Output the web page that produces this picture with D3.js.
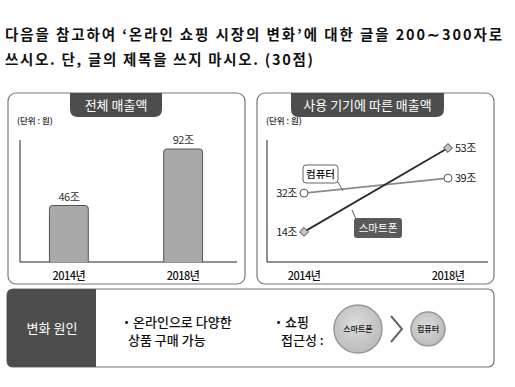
<!DOCTYPE html>
<html>
<head>
<meta charset="utf-8">
<script src="https://cdn.jsdelivr.net/npm/d3@7"></script>
<style>
body{margin:0;background:#fff;}
svg{display:block;}
</style>
</head>
<body>
<svg id="chart" width="515" height="387"></svg>
<script>
// data
var questionLines=["다음을 참고하여 ‘온라인 쇼핑 시장의 변화’에 대한 글을 200∼300자로","쓰시오. 단, 글의 제목을 쓰지 마시오. (30점)"];
var years=["2014년","2018년"];
var totalSales=[46,92];
var pcSales=[32,39];
var phoneSales=[14,53];
var unitLabel="(단위 : 원)";
var causeItems=[["・온라인으로 다양한","상품 구매 가능"],["・쇼핑","접근성 :"]];

var svg=d3.select("#chart");
var sans="'Noto Sans CJK KR','Noto Sans',sans-serif";

// question text
var qLen=[497,308];
svg.selectAll(".q").data(questionLines).enter().append("text")
    .attr("x",5).attr("y",function(d,i){return 40+i*25;})
    .style("font-family",sans).style("font-weight","bold").style("font-size","14.5px")
    .style("fill","#111").attr("textLength",function(d,i){return qLen[i];})
    .text(function(d){return d;});

function panel(x,y,w,h,title,tx,tw){
    svg.append("rect").attr("x",x).attr("y",y).attr("width",w).attr("height",h)
        .attr("rx",8).attr("fill","#fff").attr("stroke","#777").attr("stroke-width",1.2);
    // tab
    var r=8;
    var p="M"+tx+","+y+" L"+(tx+tw)+","+y+" L"+(tx+tw)+","+(y+24-r)+" Q"+(tx+tw)+","+(y+24)+" "+(tx+tw-r)+","+(y+24)
        +" L"+(tx+r)+","+(y+24)+" Q"+tx+","+(y+24)+" "+tx+","+(y+24-r)+" Z";
    svg.append("path").attr("d",p).attr("fill","#4d4d4d");
    svg.append("text").attr("x",tx+tw/2).attr("y",y+17).attr("text-anchor","middle")
        .style("font-family",sans).style("font-size","13px").style("fill","#fff").text(title);
    svg.append("text").attr("x",x+9).attr("y",y+31).style("font-family",sans).style("font-weight","500")
        .style("font-size","8.5px").style("fill","#222").text(unitLabel);
}

panel(8,93,237,191,"전체 매출액",70,92);
panel(257,93,237,191,"사용 기기에 따른 매출액",291,153);

// left bar chart
var x1=d3.scaleBand().domain(years).range([30,222]).paddingInner(0.66).paddingOuter(0.17);
var y1=d3.scaleLinear().domain([0,92]).range([262,149]);
svg.append("line").attr("x1",20).attr("x2",20).attr("y1",140).attr("y2",262).attr("stroke","#222");
svg.append("line").attr("x1",20).attr("x2",237).attr("y1",262).attr("y2",262).attr("stroke","#222");
svg.selectAll(".bar").data(totalSales).enter().append("path")
    .attr("d",function(d,i){
        var bx=x1(years[i]),bw=x1.bandwidth(),by=y1(d),r=3;
        return "M"+bx+",262 L"+bx+","+(by+r)+" Q"+bx+","+by+" "+(bx+r)+","+by+" L"+(bx+bw-r)+","+by
            +" Q"+(bx+bw)+","+by+" "+(bx+bw)+","+(by+r)+" L"+(bx+bw)+",262";
    })
    .attr("fill","#a9a9a9").attr("stroke","#555").attr("stroke-width",1);
svg.selectAll(".barlab").data(totalSales).enter().append("text")
    .attr("x",function(d,i){return x1(years[i])+x1.bandwidth()/2;})
    .attr("y",function(d){return y1(d)-5;}).attr("text-anchor","middle")
    .style("font-family",sans).style("font-size","11px").style("fill","#333").style("letter-spacing","-0.5px")
    .text(function(d){return d+"조";});
svg.selectAll(".xl1").data(years).enter().append("text")
    .attr("x",function(d){return x1(d)+x1.bandwidth()/2;}).attr("y",280).attr("text-anchor","middle")
    .style("font-family",sans).style("font-weight","500").style("font-size","11px").style("fill","#111").style("letter-spacing","-0.5px")
    .text(function(d){return d;});

// right line chart
var x2=d3.scalePoint().domain(years).range([304,448]);
var y2=d3.scaleLinear().domain([0,53]).range([262,148]);
svg.append("line").attr("x1",267).attr("x2",267).attr("y1",140).attr("y2",262).attr("stroke","#222");
svg.append("line").attr("x1",267).attr("x2",488).attr("y1",262).attr("y2",262).attr("stroke","#222");

var line=d3.line().x(function(d,i){return x2(years[i]);}).y(function(d){return y2(d);});
svg.append("path").datum(pcSales).attr("d",line).attr("fill","none").attr("stroke","#8a8a8a").attr("stroke-width",1.6);
svg.append("path").datum(phoneSales).attr("d",line).attr("fill","none").attr("stroke","#2b2b2b").attr("stroke-width",1.8);

svg.selectAll(".pc").data(pcSales).enter().append("circle")
    .attr("cx",function(d,i){return x2(years[i]);}).attr("cy",function(d){return y2(d);})
    .attr("r",4).attr("fill","#fff").attr("stroke","#555");
svg.selectAll(".ph").data(phoneSales).enter().append("path")
    .attr("d",d3.symbol().type(d3.symbolDiamond2).size(50))
    .attr("transform",function(d,i){return "translate("+x2(years[i])+","+y2(d)+")";})
    .attr("fill","#c4c4c4").attr("stroke","#444");

function valueLabels(arr){
    svg.selectAll(null).data(arr).enter().append("text")
        .attr("x",function(d,i){return x2(years[i])+(i==0?-7:7);})
        .attr("y",function(d){return y2(d)+4;})
        .attr("text-anchor",function(d,i){return i==0?"end":"start";})
        .style("font-family",sans).style("font-size","11px").style("fill","#222").style("letter-spacing","-0.5px")
        .text(function(d){return d+"조";});
}
valueLabels(pcSales);
valueLabels(phoneSales);

// callouts
svg.append("line").attr("x1",338).attr("y1",182).attr("x2",343).attr("y2",191).attr("stroke","#666");
svg.append("rect").attr("x",303).attr("y",165).attr("width",35).attr("height",18).attr("rx",3)
    .attr("fill","#fff").attr("stroke","#666");
svg.append("text").attr("x",320.5).attr("y",178).attr("text-anchor","middle")
    .style("font-family",sans).style("font-weight","500").style("font-size","10.5px").style("fill","#111").text("컴퓨터");
svg.append("line").attr("x1",352).attr("y1",210).attr("x2",356).attr("y2",219).attr("stroke","#555");
svg.append("rect").attr("x",354).attr("y",218).attr("width",48).attr("height",20).attr("rx",3)
    .attr("fill","#5a5a5a");
svg.append("text").attr("x",378).attr("y",232).attr("text-anchor","middle")
    .style("font-family",sans).style("font-size","10.5px").style("fill","#fff").text("스마트폰");

svg.selectAll(".xl2").data(years).enter().append("text")
    .attr("x",function(d){return x2(d);}).attr("y",280).attr("text-anchor","middle")
    .style("font-family",sans).style("font-weight","500").style("font-size","11px").style("fill","#111").style("letter-spacing","-0.5px")
    .text(function(d){return d;});

// bottom panel
svg.append("rect").attr("x",7).attr("y",289).attr("width",487).attr("height",78).attr("rx",6)
    .attr("fill","#fff").attr("stroke","#777").attr("stroke-width",1.2);
svg.append("path").attr("d","M13,289 L96,289 L96,367 L13,367 Q7,367 7,361 L7,295 Q7,289 13,289 Z")
    .attr("fill","#4d4d4d");
svg.append("text").attr("x",52).attr("y",333).attr("text-anchor","middle")
    .style("font-family",sans).style("font-size","13px").style("fill","#fff").text("변화 원인");

svg.selectAll(".cause").data(causeItems).enter().append("text")
    .attr("x",function(d,i){return i==0?120:272;})
    .style("font-family",sans).style("font-weight","500").style("font-size","13px").style("fill","#111")
    .each(function(d){
        d3.select(this).selectAll("tspan").data(d).enter().append("tspan")
            .attr("x",function(t,j){return j==0?d3.select(this.parentNode).attr("x"):+d3.select(this.parentNode).attr("x")+(t.length>5?8:9);})
            .attr("y",function(t,j){return 327+j*18;})
            .text(function(t){return t;});
    });

var defs=svg.append("defs");
var g=defs.append("radialGradient").attr("id","ball").attr("cx","45%").attr("cy","40%").attr("r","65%");
g.append("stop").attr("offset","0%").attr("stop-color","#dcdcdc");
g.append("stop").attr("offset","100%").attr("stop-color","#b8b8b8");

var balls=[{x:358,r:24,t:"스마트폰"},{x:428,r:17,t:"컴퓨터"}];
svg.selectAll(".ball").data(balls).enter().append("circle")
    .attr("cx",function(d){return d.x;}).attr("cy",329).attr("r",function(d){return d.r;})
    .attr("fill","url(#ball)").attr("stroke","#999").attr("stroke-width",1.5);
svg.selectAll(".balltxt").data(balls).enter().append("text")
    .attr("x",function(d){return d.x;}).attr("y",332).attr("text-anchor","middle")
    .style("font-family",sans).style("font-weight","500").style("font-size","8px").style("fill","#111")
    .text(function(d){return d.t;});
svg.append("path").attr("d","M391,316 L402,329 L391,342").attr("fill","none").attr("stroke","#666").attr("stroke-width",2);
</script>
</body>
</html>
